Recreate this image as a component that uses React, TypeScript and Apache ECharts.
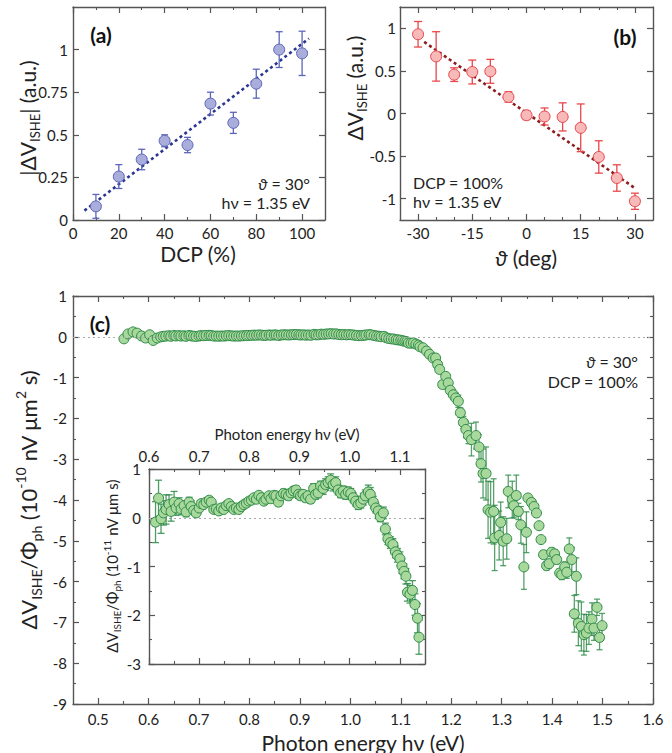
import React, { useEffect, useRef } from 'react';
import * as echarts from 'echarts';

const FONT = 'Lato, "DejaVu Sans", sans-serif';
const AXIS = '#555';
const TXT = '#222';

// ---------- Panel (a) ----------
const aDCP = [10, 20, 30, 40, 50, 60, 70, 80, 90, 100];
const aSignal = [0.08, 0.255, 0.355, 0.465, 0.44, 0.683, 0.57, 0.8, 1.0, 0.978];
const aError = [0.07, 0.07, 0.06, 0.035, 0.045, 0.067, 0.062, 0.085, 0.105, 0.13];
const aFitX = [5, 103];
const aFitY = [0.055, 1.065];
const aXTicks = [0, 20, 40, 60, 80, 100];
const aXMinor = [10, 30, 50, 70, 90];
const aYTicks = [0, 0.25, 0.5, 0.75, 1];

// ---------- Panel (b) ----------
const bAngle = [-30, -25, -20, -15, -10, -5, 0, 5, 10, 15, 20, 25, 30];
const bSignal = [0.93, 0.67, 0.456, 0.487, 0.495, 0.194, -0.02, -0.035, -0.04, -0.168, -0.51, -0.757, -1.03];
const bError = [0.15, 0.29, 0.08, 0.14, 0.14, 0.06, 0.05, 0.1, 0.165, 0.28, 0.19, 0.155, 0.095];
const bFitX = [-28.3, 30.3];
const bFitY = [0.84, -0.885];
const bXTicks = [-30, -15, 0, 15, 30];
const bXMinor = [-25, -20, -10, -5, 5, 10, 20, 25];
const bYTicks = [-1, -0.5, 0, 0.5, 1];

// ---------- Panel (c), main (10^-10 units) ----------
const cEarlyE = [0.551, 0.559, 0.569, 0.577, 0.586, 0.594, 0.602, 0.609, 0.617];
const cEarlyV = [-0.05, 0.07, 0.12, 0.09, 0.02, -0.03, 0.05, -0.09, -0.03];

const cTailE = [1.144, 1.151, 1.157, 1.164, 1.169, 1.173, 1.177, 1.183, 1.189, 1.194, 1.198, 1.204, 1.209, 1.214, 1.218, 1.224, 1.229, 1.234, 1.24, 1.249, 1.255, 1.259, 1.263, 1.269, 1.273, 1.278, 1.284, 1.286, 1.295, 1.298, 1.303, 1.31, 1.313, 1.321, 1.324, 1.329, 1.333, 1.338, 1.344, 1.349, 1.352, 1.359, 1.364, 1.369, 1.374, 1.378, 1.383, 1.389, 1.394, 1.399, 1.405, 1.409, 1.415, 1.419, 1.425, 1.429, 1.434, 1.439, 1.444, 1.448, 1.452, 1.458, 1.463, 1.468, 1.473, 1.479, 1.483, 1.489, 1.494, 1.499];
const cTailV = [-0.27, -0.35, -0.43, -0.52, -0.52, -0.68, -0.8, -1.17, -0.97, -1.13, -1.31, -1.42, -1.5, -1.58, -1.86, -2.1, -2.27, -2.42, -2.52, -2.42, -2.7, -3.11, -3.35, -3.35, -4.24, -4.3, -4.28, -4.93, -4.87, -4.55, -5.01, -4.95, -3.79, -3.99, -4.14, -3.89, -4.28, -4.61, -5.64, -4.79, -3.95, -4.06, -4.16, -4.32, -4.63, -4.97, -5.34, -5.61, -5.56, -5.28, -5.32, -5.46, -5.79, -5.83, -5.64, -5.77, -5.2, -5.46, -6.79, -5.87, -7.02, -7.1, -7.3, -7.26, -7.14, -6.92, -7.14, -6.63, -7.37, -7.08];
const cTailErr = [0.03, 0.04, 0.05, 0.05, 0.05, 0.06, 0.07, 0.08, 0.08, 0.1, 0.1, 0.12, 0.12, 0.15, 0.12, 0.15, 0.2, 0.2, 0.4, 0.33, 0.3, 0.45, 0.6, 0.65, 0.7, 0.75, 0.8, 0.8, 0.6, 0.5, 0.6, 0.5, 0.4, 0.45, 0.3, 0.5, 0.2, 0.45, 0.55, 0.5, 0.08, 0.06, 0.05, 0.05, 0.05, 0.05, 0.08, 0.1, 0.1, 0.1, 0.1, 0.1, 0.1, 0.12, 0.12, 0.15, 0.27, 0.3, 0.45, 0.45, 0.55, 0.6, 0.5, 0.45, 0.4, 0.4, 0.3, 0.2, 0.3, 0.3];

const cXTicks = [0.5, 0.6, 0.7, 0.8, 0.9, 1.0, 1.1, 1.2, 1.3, 1.4, 1.5, 1.6];
const cXMinor = [0.55, 0.65, 0.75, 0.85, 0.95, 1.05, 1.15, 1.25, 1.35, 1.45, 1.55];
const cYTicks = [1, 0, -1, -2, -3, -4, -5, -6, -7, -8, -9];
const cYMinor = [0.5, -0.5, -1.5, -2.5, -3.5, -4.5, -5.5, -6.5, -7.5, -8.5];

// ---------- Inset (10^-11 units) ----------
const insetE = [0.613, 0.619, 0.624, 0.629, 0.634, 0.64, 0.644, 0.65, 0.654, 0.66, 0.664, 0.67, 0.674, 0.68, 0.684, 0.689, 0.694, 0.7, 0.704, 0.709, 0.714, 0.72, 0.724, 0.729, 0.734, 0.739, 0.744, 0.749, 0.754, 0.759, 0.764, 0.769, 0.774, 0.779, 0.784, 0.789, 0.794, 0.799, 0.804, 0.809, 0.814, 0.819, 0.824, 0.829, 0.833, 0.839, 0.843, 0.849, 0.853, 0.858, 0.863, 0.868, 0.873, 0.878, 0.883, 0.888, 0.893, 0.898, 0.902, 0.907, 0.912, 0.917, 0.922, 0.928, 0.932, 0.937, 0.942, 0.947, 0.952, 0.957, 0.962, 0.967, 0.972, 0.977, 0.982, 0.987, 0.992, 0.997, 1.002, 1.007, 1.012, 1.017, 1.022, 1.027, 1.031, 1.037, 1.041, 1.047, 1.052, 1.057, 1.061, 1.067, 1.071, 1.076, 1.081, 1.086, 1.091, 1.095, 1.1, 1.104, 1.108, 1.112, 1.115, 1.12, 1.125, 1.13, 1.135, 1.138];
const insetV = [-0.09, 0.4, -0.02, 0.1, 0.17, 0.27, 0.13, 0.32, 0.2, 0.29, 0.18, 0.25, 0.12, 0.32, 0.23, 0.15, 0.1, 0.2, 0.29, 0.27, 0.32, 0.36, 0.32, 0.17, 0.18, 0.14, 0.2, 0.17, 0.25, 0.29, 0.23, 0.17, 0.2, 0.17, 0.23, 0.27, 0.3, 0.34, 0.36, 0.41, 0.38, 0.46, 0.41, 0.34, 0.38, 0.45, 0.39, 0.46, 0.45, 0.32, 0.45, 0.5, 0.48, 0.45, 0.51, 0.55, 0.57, 0.48, 0.45, 0.48, 0.41, 0.45, 0.38, 0.6, 0.48, 0.51, 0.65, 0.6, 0.68, 0.72, 0.77, 0.68, 0.72, 0.57, 0.51, 0.55, 0.48, 0.53, 0.5, 0.41, 0.34, 0.27, 0.3, 0.38, 0.45, 0.53, 0.48, 0.32, 0.2, 0.14, 0.02, 0.1, -0.23, -0.43, -0.51, -0.55, -0.7, -0.77, -0.84, -0.99, -1.1, -1.2, -1.53, -1.57, -1.49, -1.78, -2.06, -2.45];
const insetErr = [0.42, 0.37, 0.3, 0.25, 0.3, 0.2, 0.2, 0.22, 0.15, 0.12, 0.12, 0.1, 0.1, 0.1, 0.12, 0.08, 0.08, 0.07, 0.07, 0.06, 0.07, 0.07, 0.06, 0.06, 0.06, 0.05, 0.05, 0.05, 0.05, 0.05, 0.05, 0.05, 0.05, 0.05, 0.05, 0.05, 0.05, 0.05, 0.05, 0.06, 0.06, 0.06, 0.06, 0.06, 0.06, 0.06, 0.06, 0.06, 0.06, 0.07, 0.07, 0.08, 0.08, 0.08, 0.08, 0.08, 0.08, 0.08, 0.08, 0.08, 0.08, 0.08, 0.08, 0.1, 0.1, 0.1, 0.1, 0.12, 0.12, 0.12, 0.13, 0.13, 0.12, 0.1, 0.1, 0.1, 0.1, 0.1, 0.1, 0.1, 0.1, 0.1, 0.1, 0.12, 0.12, 0.14, 0.14, 0.12, 0.1, 0.1, 0.1, 0.12, 0.12, 0.12, 0.12, 0.12, 0.12, 0.14, 0.14, 0.15, 0.15, 0.16, 0.18, 0.18, 0.2, 0.22, 0.3, 0.35];
const inXTicks = [0.6, 0.7, 0.8, 0.9, 1.0, 1.1];
const inXMinor = [0.65, 0.75, 0.85, 0.95, 1.05, 1.15];
const inYTicks = [1, 0, -1, -2, -3];
const inYMinor = [0.5, -0.5, -1.5, -2.5];

type Spec = {
  grid: number; min: number; max: number; major: number[]; minor: number[];
  labelPos: string; margin: number; fmt?: (v: number) => string;
};

function buildAxes(dim: 'x' | 'y', s: Spec) {
  const sides = dim === 'x' ? ['bottom', 'top'] : ['left', 'right'];
  const base: any = { type: 'value', gridIndex: s.grid, min: s.min, max: s.max, splitLine: { show: false }, minorTick: { show: false } };
  const out: any[] = [];
  for (const side of sides) {
    const lbl: any = { show: side === s.labelPos, customValues: s.major, margin: s.margin, fontSize: 15, color: TXT, fontFamily: FONT };
    if (s.fmt) lbl.formatter = s.fmt;
    out.push({
      ...base, position: side,
      axisLine: { show: true, onZero: false, lineStyle: { color: AXIS, width: 1.4 } },
      axisTick: { show: true, inside: true, length: 6, customValues: s.major, lineStyle: { color: AXIS, width: 1.2 } },
      axisLabel: lbl,
    });
  }
  if (s.minor.length) {
    for (const side of sides) {
      out.push({
        ...base, position: side,
        axisLine: { show: false, onZero: false },
        axisTick: { show: true, inside: true, length: 3, customValues: s.minor, lineStyle: { color: AXIS, width: 1.1 } },
        axisLabel: { show: false },
      });
    }
  }
  return out;
}

function errorSeries(data: number[][], xi: number, yi: number, color: string, hw: number, opacity = 1, z = 3) {
  return {
    type: 'custom', xAxisIndex: xi, yAxisIndex: yi, data, z, silent: true,
    encode: { x: 0, y: 1 },
    renderItem: (_p: any, api: any) => {
      const x = api.value(0), y = api.value(1), e = api.value(2);
      const t = api.coord([x, y + e]);
      const b = api.coord([x, y - e]);
      const st = { stroke: color, lineWidth: 1.3, opacity };
      return {
        type: 'group', children: [
          { type: 'line', shape: { x1: t[0], y1: t[1], x2: b[0], y2: b[1] }, style: st },
          { type: 'line', shape: { x1: t[0] - hw, y1: t[1], x2: t[0] + hw, y2: t[1] }, style: st },
          { type: 'line', shape: { x1: b[0] - hw, y1: b[1], x2: b[0] + hw, y2: b[1] }, style: st },
        ],
      };
    },
  };
}

function scatter(data: number[][], xi: number, yi: number, fill: string, border: string, size: number, extra: any = {}, z = 4) {
  return {
    type: 'scatter', xAxisIndex: xi, yAxisIndex: yi, z, silent: true,
    data: data.map((d) => [d[0], d[1]]), symbol: 'circle', symbolSize: size,
    itemStyle: { color: fill, borderColor: border, borderWidth: 1, opacity: 1 },
    ...extra,
  };
}

function richStyles(fs: number) {
  const sm = Math.round(fs * 0.64);
  return {
    s: { fontSize: sm, lineHeight: sm, verticalAlign: 'bottom', fontFamily: FONT, fill: TXT },
    p: { fontSize: sm, lineHeight: sm, verticalAlign: 'top', fontFamily: FONT, fill: TXT },
    i: { fontSize: fs, fontStyle: 'italic', fontFamily: FONT, fill: TXT },
  };
}

function txt(x: number, y: number, text: string, fs: number, align = 'center', extra: any = {}, rotation = 0) {
  return {
    type: 'text', x, y, rotation, z: 100, silent: true,
    style: {
      text, fontSize: fs, fontFamily: FONT, fill: TXT, align, verticalAlign: 'middle',
      textAlign: align, textVerticalAlign: 'middle', lineHeight: Math.round(fs * 1.35),
      rich: richStyles(fs), ...extra,
    },
  };
}

export default function App() {
  const ref = useRef<HTMLDivElement>(null);
  useEffect(() => {
    if (!ref.current) return;
    const chart = echarts.init(ref.current, null, { renderer: 'svg' });

    const xAxes: any[] = [];
    const yAxes: any[] = [];
    const addX = (s: Spec) => { const i = xAxes.length; xAxes.push(...buildAxes('x', s)); return i; };
    const addY = (s: Spec) => { const i = yAxes.length; yAxes.push(...buildAxes('y', s)); return i; };

    const fmt1 = (v: number) => v.toFixed(1);
    const ax = addX({ grid: 0, min: 0, max: 110, major: aXTicks, minor: aXMinor, labelPos: 'bottom', margin: 5 });
    const ay = addY({ grid: 0, min: 0, max: 1.25, major: aYTicks, minor: [], labelPos: 'left', margin: 5 });
    const bx = addX({ grid: 1, min: -35, max: 35, major: bXTicks, minor: bXMinor, labelPos: 'bottom', margin: 5 });
    const by = addY({ grid: 1, min: -1.25, max: 1.25, major: bYTicks, minor: [], labelPos: 'left', margin: 4 });
    const cx = addX({ grid: 2, min: 0.45, max: 1.6, major: cXTicks, minor: cXMinor, labelPos: 'bottom', margin: 7, fmt: fmt1 });
    const cy = addY({ grid: 2, min: -9, max: 1, major: cYTicks, minor: cYMinor, labelPos: 'left', margin: 6 });
    const ix = addX({ grid: 3, min: 0.6, max: 1.15, major: inXTicks, minor: inXMinor, labelPos: 'top', margin: 6, fmt: fmt1 });
    const iy = addY({ grid: 3, min: -3, max: 1, major: inYTicks, minor: inYMinor, labelPos: 'left', margin: 8 });

    const aData = aDCP.map((x, i) => [x, aSignal[i], aError[i]]);
    const bData = bAngle.map((x, i) => [x, bSignal[i], bError[i]]);
    const inData = insetE.map((x, i) => [x, insetV[i], insetErr[i]]);
    const cData = [
      ...cEarlyE.map((x, i) => [x, cEarlyV[i], 0]),
      ...inData.filter((d) => d[0] > 0.62).map((d) => [d[0], d[1] / 10, d[2] / 10]),
      ...cTailE.map((x, i) => [x, cTailV[i], cTailErr[i]]),
    ];

    const zeroLine = {
      markLine: {
        silent: true, symbol: 'none', label: { show: false }, animation: false,
        lineStyle: { type: [2, 3], color: '#aaa', width: 1 },
        data: [{ yAxis: 0 }],
      },
    };

    const gridBase = { containLabel: false, outerBoundsMode: 'none' };
    const option: any = {
      animation: false,
      backgroundColor: '#fff',
      textStyle: { fontFamily: FONT },
      grid: [
        { ...gridBase, left: 73, top: 7, width: 252, height: 213 },
        { ...gridBase, left: 400, top: 7, width: 253, height: 213 },
        { ...gridBase, left: 73, top: 296, width: 580, height: 408 },
        { ...gridBase, left: 149, top: 469, width: 276, height: 195 },
      ],
      xAxis: xAxes,
      yAxis: yAxes,
      series: [
        {
          type: 'line', xAxisIndex: ax, yAxisIndex: ay, z: 2, silent: true, symbol: 'none',
          data: aFitX.map((x, i) => [x, aFitY[i]]),
          lineStyle: { color: '#2b3592', width: 2.6, type: [3, 3] },
        },
        errorSeries(aData, ax, ay, '#5c66b8', 3.5),
        scatter(aData, ax, ay, '#a9addb', '#5c66b8', 11),
        {
          type: 'line', xAxisIndex: bx, yAxisIndex: by, z: 2, silent: true, symbol: 'none',
          data: bFitX.map((x, i) => [x, bFitY[i]]),
          lineStyle: { color: '#8e1d1d', width: 2.6, type: [3, 3] },
        },
        errorSeries(bData, bx, by, '#e8474a', 4),
        scatter(bData, bx, by, '#f8b9b9', '#e6454b', 11),
        errorSeries(cData, cx, cy, '#2e8b47', 3, 0.8),
        scatter(cData, cx, cy, '#a8d89c', '#2e8b47', 10, zeroLine),
        errorSeries(inData, ix, iy, '#2e8b47', 3.5, 0.85, 10),
        scatter(inData, ix, iy, '#a8d89c', '#2e8b47', 10, zeroLine, 11),
      ],
      graphic: {
        elements: [
          txt(101, 34, '(a)', 21, 'center', { fontWeight: 'bold', fill: '#111' }),
          txt(625, 36, '(b)', 21, 'center', { fontWeight: 'bold', fill: '#111' }),
          txt(100, 323, '(c)', 21, 'center', { fontWeight: 'bold', fill: '#111' }),
          txt(310, 183, '{i|ϑ} = 30°', 16, 'right'),
          txt(310, 202, 'hν = 1.35 eV', 16, 'right'),
          txt(413, 182, 'DCP = 100%', 16, 'left'),
          txt(413, 201, 'hν = 1.35 eV', 16, 'left'),
          txt(638, 361, '{i|ϑ} = 30°', 16, 'right'),
          txt(638, 381, 'DCP = 100%', 16, 'right'),
          txt(27, 118, '|ΔV{s|ISHE}| (a.u.)', 21, 'center', {}, Math.PI / 2),
          txt(198, 253, 'DCP (%)', 21),
          txt(354, 88, 'ΔV{s|ISHE} (a.u.)', 21, 'center', {}, Math.PI / 2),
          txt(526, 257, '{i|ϑ} (deg)', 21),
          txt(28, 500, 'ΔV{s|ISHE}/Φ{s|ph} (10{p|-10} nV μm{p|2} s)', 22, 'center', {}, Math.PI / 2),
          txt(363, 742, 'Photon energy hν (eV)', 21),
          txt(287, 434, 'Photon energy hν (eV)', 15),
          txt(112, 566, 'ΔV{s|ISHE}/Φ{s|ph} (10{p|-11} nV μm s)', 15, 'center', {}, Math.PI / 2),
        ],
      },
    };
    chart.setOption(option);
    return () => chart.dispose();
  }, []);

  return (
    <div
      ref={ref}
      style={{ position: 'fixed', left: 0, top: 0, width: 672, height: 753, background: '#fff' }}
    />
  );
}
